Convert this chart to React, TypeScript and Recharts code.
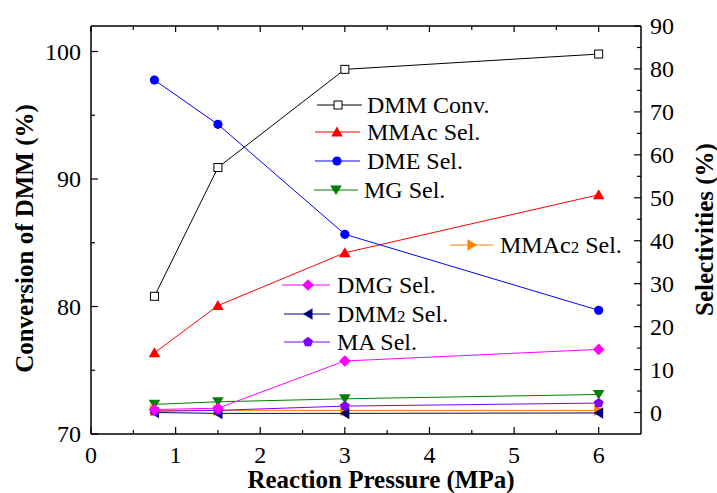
import React from 'react';
import { LineChart, Line, XAxis, YAxis } from 'recharts';

// Reaction pressure (MPa) and the measured values at each pressure
const pressure = [0.75, 1.5, 3, 6];
const dmmConv = [80.8, 90.9, 98.6, 99.8]; // left axis
const mmacSel = [13.9, 24.9, 37.2, 50.7];
const dmeSel = [77.4, 67.1, 41.5, 23.8];
const mgSel = [1.9, 2.5, 3.2, 4.2];
const dmgSel = [0.7, 1.0, 12.0, 14.7];
const dmm2Sel = [0.0, -0.2, -0.2, -0.1];
const maSel = [0.3, 0.5, 1.5, 2.2];
const mmac2Sel = [0.5, 0.5, 0.5, 0.5];

const xTicks = [0, 0.5, 1, 1.5, 2, 2.5, 3, 3.5, 4, 4.5, 5, 5.5, 6];
const leftTicks = [70, 75, 80, 85, 90, 95, 100];
const rightTicks = [0, 5, 10, 15, 20, 25, 30, 35, 40, 45, 50, 55, 60, 65, 70, 75, 80, 85, 90];

const W = 717;
const H = 493;
const FONT = 'Liberation Serif, DejaVu Serif, serif';
const TICK_FS = 24;

type Shape = 'square' | 'triUp' | 'circle' | 'triDown' | 'diamond' | 'triLeft' | 'pentagon' | 'triRight';

interface Series {
  key: string;
  label: string;
  sub?: string;
  color: string;
  shape: Shape;
  axis: 'left' | 'right';
  values: number[];
}

const series: Series[] = [
  { key: 'conv', label: 'DMM Conv.', color: '#000000', shape: 'square', axis: 'left', values: dmmConv },
  { key: 'mmac', label: 'MMAc Sel.', color: '#ff0000', shape: 'triUp', axis: 'right', values: mmacSel },
  { key: 'dme', label: 'DME Sel.', color: '#0000ff', shape: 'circle', axis: 'right', values: dmeSel },
  { key: 'mg', label: 'MG Sel.', color: '#008000', shape: 'triDown', axis: 'right', values: mgSel },
  { key: 'mmac2', label: 'MMAc', sub: '2', color: '#ff8000', shape: 'triRight', axis: 'right', values: mmac2Sel },
  { key: 'dmm2', label: 'DMM', sub: '2', color: '#000080', shape: 'triLeft', axis: 'right', values: dmm2Sel },
  { key: 'ma', label: 'MA Sel.', color: '#7f00ff', shape: 'pentagon', axis: 'right', values: maSel },
  { key: 'dmg', label: 'DMG Sel.', color: '#ff00ff', shape: 'diamond', axis: 'right', values: dmgSel },
];

const data = pressure.map((p, i) => {
  const row: Record<string, number> = { p };
  series.forEach((s) => {
    row[s.key] = s.values[i];
  });
  return row;
});

function Marker({ shape, cx, cy, color }: { shape: Shape; cx: number; cy: number; color: string }) {
  const r = 5;
  switch (shape) {
    case 'square':
      return <rect x={cx - 4} y={cy - 4} width={8} height={8} fill="#fff" stroke={color} strokeWidth={1} />;
    case 'circle':
      return <circle cx={cx} cy={cy} r={4.6} fill={color} />;
    case 'triUp':
      return <polygon points={`${cx},${cy - r - 0.5} ${cx + r + 0.8},${cy + r - 0.5} ${cx - r - 0.8},${cy + r - 0.5}`} fill={color} />;
    case 'triDown':
      return <polygon points={`${cx},${cy + r} ${cx + r + 0.8},${cy - r + 0.5} ${cx - r - 0.8},${cy - r + 0.5}`} fill={color} />;
    case 'triLeft':
      return <polygon points={`${cx - r},${cy} ${cx + r - 0.5},${cy - r - 0.8} ${cx + r - 0.5},${cy + r + 0.8}`} fill={color} />;
    case 'triRight':
      return <polygon points={`${cx + r},${cy} ${cx - r + 0.5},${cy - r - 0.8} ${cx - r + 0.5},${cy + r + 0.8}`} fill={color} />;
    case 'diamond':
      return <polygon points={`${cx},${cy - 5.8} ${cx + 5.8},${cy} ${cx},${cy + 5.8} ${cx - 5.8},${cy}`} fill={color} />;
    case 'pentagon': {
      const pts = [0, 1, 2, 3, 4]
        .map((k) => {
          const a = -Math.PI / 2 + (k * 2 * Math.PI) / 5;
          return `${cx + 5.2 * Math.cos(a)},${cy + 5.2 * Math.sin(a)}`;
        })
        .join(' ');
      return <polygon points={pts} fill={color} />;
    }
  }
  return null;
}

/* eslint-disable @typescript-eslint/no-explicit-any */
function BottomTick({ x, y, payload }: any) {
  const v = payload.value as number;
  const major = Number.isInteger(v);
  return (
    <g>
      <line x1={x} x2={x} y1={y} y2={y - (major ? 7 : 4)} stroke="#000" strokeWidth={1.2} />
      {major && (
        <text x={x} y={y + 28.5} textAnchor="middle" style={{ fontFamily: FONT }} fontSize={TICK_FS} fill="#000">
          {v}
        </text>
      )}
    </g>
  );
}

function TopTick({ x, y, payload }: any) {
  const v = payload.value as number;
  return <line x1={x} x2={x} y1={y} y2={y + (Number.isInteger(v) ? 6 : 4)} stroke="#000" strokeWidth={1.2} />;
}

function LeftTick({ x, y, payload }: any) {
  const v = payload.value as number;
  const major = v % 10 === 0;
  return (
    <g>
      <line x1={x} x2={x + (major ? 7 : 4)} y1={y} y2={y} stroke="#000" strokeWidth={1.2} />
      {major && (
        <text x={x - 10} y={y + 8} textAnchor="end" style={{ fontFamily: FONT }} fontSize={TICK_FS} fill="#000">
          {v}
        </text>
      )}
    </g>
  );
}

function RightTick({ x, y, payload }: any) {
  const v = payload.value as number;
  const major = v % 10 === 0;
  return (
    <g>
      <line x1={x} x2={x - (major ? 7 : 4)} y1={y} y2={y} stroke="#000" strokeWidth={1.2} />
      {major && (
        <text x={x + 9} y={y + 8} textAnchor="start" style={{ fontFamily: FONT }} fontSize={TICK_FS} fill="#000">
          {v}
        </text>
      )}
    </g>
  );
}
/* eslint-enable @typescript-eslint/no-explicit-any */

// legend rows: [series key, line x1, line x2, marker x, y, text x]
const legendRows: Array<[string, number, number, number, number, number]> = [
  ['conv', 317, 362, 338, 105, 367],
  ['mmac', 315, 360, 337, 132, 367],
  ['dme', 315, 360, 337, 161, 367],
  ['mg', 314, 358, 336, 190, 364],
  ['mmac2', 450, 493, 472, 245, 500],
  ['dmg', 282, 330, 308, 285, 337],
  ['dmm2', 284, 330, 308, 314, 337],
  ['ma', 284, 330, 308, 342, 337],
];

function Legend() {
  return (
    <svg width={W} height={H} style={{ position: 'absolute', left: 0, top: 0, pointerEvents: 'none', fontFamily: FONT }}>
      {legendRows.map(([k, x1, x2, mx, y, tx]) => {
        const s = series.find((q) => q.key === k)!;
        return (
          <g key={k}>
            <line x1={x1} x2={x2} y1={y} y2={y} stroke={s.color} strokeWidth={1} />
            <Marker shape={s.shape} cx={mx} cy={y} color={s.color} />
            <text x={tx} y={y + 8} fontSize={TICK_FS} fill="#000">
              {s.label}
              {s.sub && (
                <>
                  <tspan fontSize={17}>{s.sub}</tspan>
                  <tspan> Sel.</tspan>
                </>
              )}
            </text>
          </g>
        );
      })}
      <text
        x={24}
        y={238.5}
        transform="rotate(-90, 24, 238.5)"
        textAnchor="middle"
        dominantBaseline="central"
        fontWeight="bold"
        fontSize={25}
      >
        Conversion of DMM (%)
      </text>
      <text
        x={704}
        y={229.5}
        transform="rotate(-90, 704, 229.5)"
        textAnchor="middle"
        dominantBaseline="central"
        fontWeight="bold"
        fontSize={25}
      >
        Selectivities (%)
      </text>
      <text x={381} y={487.5} textAnchor="middle" fontWeight="bold" fontSize={25}>
        Reaction Pressure (MPa)
      </text>
    </svg>
  );
}

export default function App() {
  return (
    <div style={{ position: 'absolute', left: 0, top: 0, width: W, height: H, background: '#fff', fontFamily: FONT }}>
      <LineChart width={W} height={H} data={data} margin={{ top: 25, right: 0, bottom: 0, left: 0 }}>
        <XAxis
          xAxisId="b"
          type="number"
          dataKey="p"
          domain={[0, 6.5]}
          ticks={xTicks}
          interval={0}
          height={59}
          tickSize={0}
          tickMargin={0}
          tickLine={false}
          axisLine={{ stroke: '#000', strokeWidth: 1.5 }}
          tick={(p: any) => <BottomTick {...p} />}
        />
        <XAxis
          xAxisId="t"
          orientation="top"
          type="number"
          dataKey="p"
          domain={[0, 6.5]}
          ticks={xTicks}
          interval={0}
          height={1}
          tickSize={0}
          tickMargin={0}
          tickLine={false}
          axisLine={{ stroke: '#000', strokeWidth: 1.5 }}
          tick={(p: any) => <TopTick {...p} />}
        />
        <YAxis
          yAxisId="left"
          orientation="left"
          type="number"
          domain={[70, 102]}
          ticks={leftTicks}
          interval={0}
          width={91}
          tickSize={0}
          tickMargin={0}
          tickLine={false}
          allowDataOverflow
          axisLine={{ stroke: '#000', strokeWidth: 1.5 }}
          tick={(p: any) => <LeftTick {...p} />}
        />
        <YAxis
          yAxisId="right"
          orientation="right"
          type="number"
          domain={[-5, 90]}
          ticks={rightTicks}
          interval={0}
          width={76}
          tickSize={0}
          tickMargin={0}
          tickLine={false}
          allowDataOverflow
          axisLine={{ stroke: '#000', strokeWidth: 1.5 }}
          tick={(p: any) => <RightTick {...p} />}
        />
        {series.map((s) => (
          <Line
            key={s.key}
            xAxisId="b"
            yAxisId={s.axis}
            dataKey={s.key}
            type="linear"
            stroke={s.color}
            strokeWidth={1}
            isAnimationActive={false}
            dot={(props: any) => (
              <Marker key={`${s.key}-${props.index}`} shape={s.shape} cx={props.cx} cy={props.cy} color={s.color} />
            )}
            activeDot={false}
          />
        ))}
      </LineChart>
      <Legend />
    </div>
  );
}
